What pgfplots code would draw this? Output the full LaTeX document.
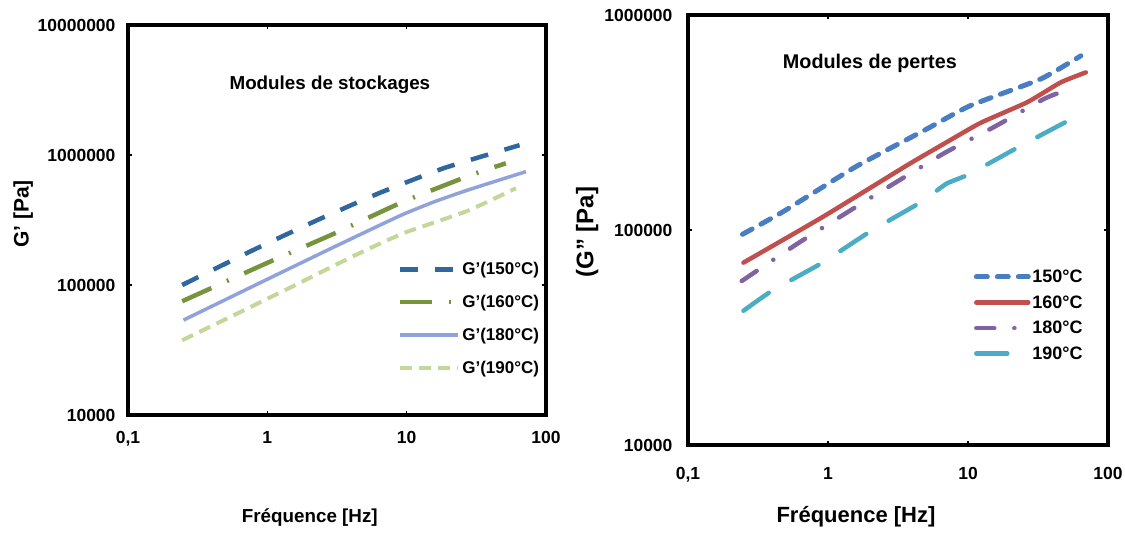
\documentclass[border=0pt]{standalone}
\usepackage{pgfplots}
\pgfplotsset{compat=1.18}
\usepackage{fontspec}
\setmainfont{Liberation Sans}
\definecolor{lb150}{HTML}{2F679E}
\definecolor{lg160}{HTML}{77933C}
\definecolor{lp180}{HTML}{8FA3DA}
\definecolor{ly190}{HTML}{C4D79B}
\definecolor{rb150}{HTML}{4A7EC2}
\definecolor{rr160}{HTML}{C0504D}
\definecolor{rp180}{HTML}{8064A2}
\definecolor{rc190}{HTML}{4BACC6}
\begin{document}
\begin{tikzpicture}
\useasboundingbox (0pt,0pt) rectangle (1125pt,-535pt);
% ---------------- left panel ----------------
\begin{axis}[
  scale only axis,
  xmode=log, ymode=log,
  xmin=0.1, xmax=100,
  xtick={0.1,1,10,100},
  xticklabels={{0,1},1,10,100},
  minor tick style={draw=none},
  major tick length=4pt,
  tick style={black, line width=1.5pt},
  axis line style={line width=4pt},
  ticklabel style={font=\fontsize{17.5}{17.5}\selectfont\bfseries},
  legend cell align=left,
  at={(128pt,-25pt)}, anchor=north west,
  width=418pt, height=390pt,
  ymin=1e4, ymax=1e7,
  ytick={1e4,1e5,1e6,1e7},
  yticklabels={10000,100000,1000000,10000000},
  yticklabel style={xshift=-9pt},
  xticklabel style={yshift=-13pt},
  xlabel={Fréquence [Hz]},
  xlabel style={at={(axis description cs:0.435,-0.264)}, anchor=center,
    font=\fontsize{18.8}{18.8}\selectfont\bfseries},
  ylabel={G' [Pa]},
  ylabel style={at={(axis description cs:-0.251,0.515)}, anchor=center, rotate=0,
    font=\fontsize{21}{21}\selectfont\bfseries},
  legend style={draw=none, fill=none, inner sep=0pt,
    font=\fontsize{17}{17}\selectfont\bfseries,
    at={(axis description cs:0.645,0.397)}, anchor=north west,
    row sep=15pt, nodes={inner sep=2pt}},
  legend image code/.code={\draw[#1] (0pt,0pt) -- (58pt,0pt);},
]
\node[font=\fontsize{18.8}{18.8}\selectfont\bfseries] at (axis description cs:0.483,0.846) {Modules de stockages};
\addplot[lb150, smooth, tension=0.3, line width=4.5pt, dash pattern=on 18pt off 17pt] coordinates {
 (0.245,1.0e5) (0.794,1.86e5) (2.29,3.16e5) (6.46,5.13e5) (18.6,7.94e5) (64.6,1.19e6)};
\addlegendentry{G'(150°C)}
\addplot[lg160, smooth, tension=0.3, line width=4.5pt, dash pattern=on 32pt off 17pt on 2pt off 17pt] coordinates {
 (0.245,7.5e4) (1,1.48e5) (3.08,2.51e5) (9.35,4.35e5) (28.8,7.0e5) (51.5,8.63e5)};
\addlegendentry{G'(160°C)}
\addplot[lp180, smooth, tension=0.3, line width=3.5pt] coordinates {
 (0.25,5.37e4) (1,1.107e5) (3.16,2.01e5) (9.06,3.43e5) (15.8,4.37e5) (27.4,5.37e5) (71.8,7.45e5)};
\addlegendentry{G'(180°C)}
\addplot[ly190, smooth, tension=0.3, line width=4pt, dash pattern=on 12pt off 7pt] coordinates {
 (0.245,3.76e4) (0.459,5.21e4) (1.42,9.42e4) (4.30,1.70e5) (9.55,2.51e5) (27.4,3.72e5) (60.8,5.55e5)};
\addlegendentry{G'(190°C)}
\end{axis}
% ---------------- right panel ----------------
\begin{axis}[
  scale only axis,
  xmode=log, ymode=log,
  xmin=0.1, xmax=100,
  xtick={0.1,1,10,100},
  xticklabels={{0,1},1,10,100},
  minor tick style={draw=none},
  major tick length=4pt,
  tick style={black, line width=1.5pt},
  axis line style={line width=4pt},
  ticklabel style={font=\fontsize{17.5}{17.5}\selectfont\bfseries},
  legend cell align=left,
  at={(688pt,-15pt)}, anchor=north west,
  width=420pt, height=430pt,
  ymin=1e4, ymax=1e6,
  ytick={1e4,1e5,1e6},
  yticklabels={10000,100000,1000000},
  yticklabel style={xshift=-12pt},
  xticklabel style={yshift=-19pt},
  xlabel={Fréquence [Hz]},
  xlabel style={at={(axis description cs:0.4,-0.167)}, anchor=center,
    font=\fontsize{22}{22}\selectfont\bfseries},
  ylabel={(G'' [Pa]},
  ylabel style={at={(axis description cs:-0.24,0.495)}, anchor=center, rotate=0,
    font=\fontsize{24}{24}\selectfont\bfseries},
  legend style={draw=none, fill=none, inner sep=0pt,
    at={(axis description cs:0.68,0.411)}, anchor=north west,
    row sep=8.5pt, nodes={inner sep=1.5pt},
    font=\fontsize{18}{18}\selectfont\bfseries},
  legend image code/.code={\draw[#1] (0pt,0pt) -- (52pt,0pt);},
]
\node[font=\fontsize{19.8}{19.8}\selectfont\bfseries] at (axis description cs:0.433,0.888) {Modules de pertes};
\addplot[rb150, smooth, tension=0.3, line width=5pt, line cap=round, dash pattern=on 11pt off 10pt] coordinates {
 (0.245,9.55e4) (0.481,1.22e5) (1.58,1.97e5) (4.84,2.90e5) (10.4,3.79e5) (33.1,5.04e5) (64.0,6.46e5)};
\addlegendentry{150°C}
\addplot[rr160, smooth, tension=0.3, line width=4.5pt, line cap=round] coordinates {
 (0.249,7.05e4) (0.929,1.156e5) (3.67,2.0e5) (7.11,2.57e5) (12.3,3.15e5) (26.5,3.93e5) (46.0,4.86e5) (69.5,5.41e5)};
\addlegendentry{160°C}
\addplot[rp180, smooth, tension=0.3, line width=4.5pt, line cap=round, dash pattern=on 18pt off 20pt on 0.1pt off 20pt] coordinates {
 (0.242,5.79e4) (0.617,8.71e4) (2.01,1.41e5) (6.71,2.27e5) (15.3,3.01e5) (34.9,4.07e5) (52.7,4.53e5)};
\addlegendentry{180°C}
\addplot[rc190, smooth, tension=0.3, line width=4.5pt, line cap=round, dash pattern=on 31pt off 26pt] coordinates {
 (0.249,4.21e4) (0.397,5.21e4) (0.906,7.03e4) (2.01,9.86e4) (4.46,1.33e5) (6.03,1.53e5) (7.11,1.65e5) (10.4,1.83e5) (23.2,2.44e5) (52.7,3.24e5)};
\addlegendentry{190°C}
\end{axis}
\end{tikzpicture}
\end{document}
